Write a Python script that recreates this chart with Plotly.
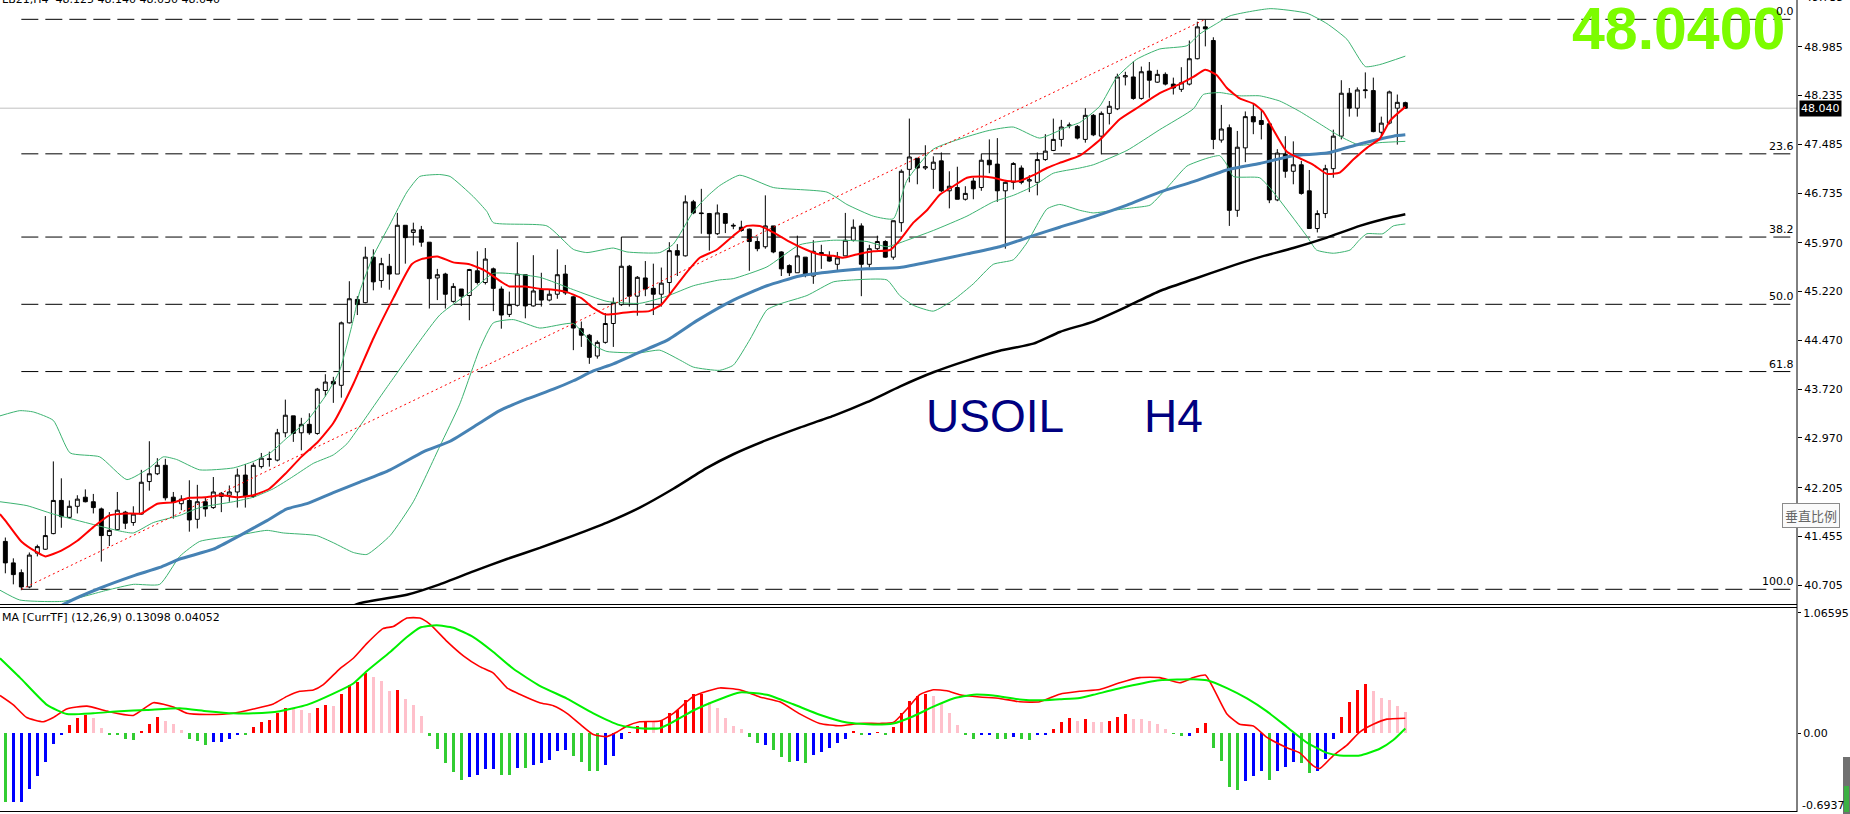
import plotly.graph_objects as go

W, H = 1850, 814

# ---------------- candle data (H4, index = bar number) ----------------
opens = [41.38, 41.05, 40.90, 40.68, 41.20, 41.26, 41.50, 42.01, 41.75, 41.92,
         42.06, 41.99, 41.88, 41.47, 41.56, 41.83, 41.67, 41.80, 42.30, 42.42,
         42.55, 42.06, 41.96, 42.01, 41.72, 41.99, 41.90, 42.07, 42.09, 42.14,
         42.40, 42.07, 42.53, 42.65, 42.63, 43.05, 43.31, 43.05, 43.18, 43.04,
         43.70, 43.84, 43.78, 44.74, 45.10, 45.05, 45.75, 45.39, 45.61, 45.49,
         46.24, 46.13, 46.17, 45.98, 45.43, 45.49, 45.07, 45.26, 45.16, 45.54,
         45.36, 45.57, 45.26, 44.87, 45.01, 45.48, 45.00, 45.25, 45.09, 45.18,
         45.49, 45.14, 44.65, 44.55, 44.23, 44.44, 44.73, 45.02, 45.61, 45.15,
         45.43, 45.27, 45.18, 45.36, 45.85, 45.77, 46.60, 46.43, 46.42, 46.11,
         46.42, 46.24, 46.21, 46.18, 45.99, 45.91, 46.23, 45.83, 45.62, 45.51,
         45.75, 45.46, 45.82, 45.77, 45.64, 45.77, 46.01, 46.23, 45.64, 45.88,
         45.99, 45.75, 46.28, 47.10, 47.27, 47.12, 47.10, 47.23, 46.77, 46.82,
         46.64, 46.92, 46.82, 47.24, 47.18, 46.77, 46.90, 47.12, 46.92, 46.90,
         47.25, 47.39, 47.56, 47.77, 47.76, 47.56, 47.93, 47.61, 47.96, 48.03,
         48.52, 48.52, 48.19, 48.61, 48.44, 48.56, 48.41, 48.33, 48.41, 48.80,
         49.29, 49.08, 47.55, 47.74, 46.47, 47.43, 47.91, 47.85, 47.80, 46.63,
         47.33, 47.07, 47.17, 46.77, 46.19, 46.42, 47.11, 47.61, 48.27, 48.04,
         48.31, 48.31, 47.67, 47.81, 48.04, 48.125]
highs = [41.44, 41.12, 40.95, 41.21, 41.33, 41.77, 42.61, 42.35, 42.01, 42.09,
         42.18, 42.11, 41.90, 41.83, 42.14, 41.85, 41.92, 42.48, 42.92, 42.66,
         42.65, 42.14, 42.09, 42.32, 42.25, 42.06, 42.37, 42.14, 42.24, 42.50,
         42.57, 42.59, 42.74, 42.76, 43.11, 43.56, 43.31, 43.28, 43.35, 43.74,
         43.95, 43.91, 44.76, 45.38, 45.15, 45.91, 45.87, 45.74, 45.80, 46.43,
         46.24, 46.28, 46.23, 45.98, 45.57, 45.51, 45.35, 45.26, 45.57, 45.84,
         45.89, 45.59, 45.30, 45.22, 45.98, 45.48, 45.78, 45.51, 45.25, 45.87,
         45.63, 45.15, 44.76, 44.57, 44.47, 44.89, 45.13, 46.06, 45.63, 45.46,
         45.69, 45.65, 45.59, 45.98, 45.95, 46.70, 46.63, 46.80, 46.43, 46.56,
         46.43, 46.27, 46.31, 46.19, 46.05, 46.70, 46.23, 45.84, 45.64, 46.08,
         45.75, 46.01, 45.94, 45.84, 45.83, 46.43, 46.33, 46.27, 45.94, 46.08,
         46.01, 46.31, 47.10, 47.88, 47.27, 47.47, 47.30, 47.36, 47.07, 47.14,
         46.84, 46.97, 47.34, 47.56, 47.58, 46.92, 47.21, 47.16, 47.01, 47.36,
         47.64, 47.88, 47.86, 47.82, 47.78, 48.04, 47.95, 47.99, 48.15, 48.57,
         48.60, 48.76, 48.68, 48.75, 48.63, 48.59, 48.51, 48.67, 49.08, 49.37,
         49.40, 49.13, 48.09, 47.79, 47.69, 47.99, 48.12, 48.01, 47.83, 47.41,
         47.61, 47.53, 47.23, 47.09, 46.47, 47.17, 47.71, 48.47, 48.35, 48.36,
         48.59, 48.51, 47.91, 48.31, 48.25, 48.14]
lows = [40.89, 40.72, 40.63, 40.66, 41.15, 41.25, 41.49, 41.59, 41.73, 41.81,
        41.98, 41.81, 41.07, 41.31, 41.55, 41.57, 41.62, 41.79, 42.16, 42.40,
        42.01, 41.73, 41.86, 41.53, 41.58, 41.76, 41.88, 41.83, 41.99, 41.90,
        41.90, 42.05, 42.50, 42.53, 42.61, 42.98, 42.91, 42.78, 43.02, 43.02,
        43.61, 43.51, 43.59, 44.73, 44.86, 45.04, 45.24, 45.28, 45.25, 45.49,
        45.65, 45.93, 45.91, 44.96, 45.09, 44.96, 45.05, 45.00, 44.78, 45.33,
        45.33, 44.92, 44.65, 44.83, 44.99, 44.81, 44.99, 44.99, 45.07, 45.11,
        45.17, 44.32, 44.37, 44.11, 44.19, 44.42, 44.37, 45.00, 44.99, 44.85,
        45.15, 44.86, 44.99, 45.18, 45.46, 45.76, 46.41, 46.11, 45.85, 46.09,
        46.12, 46.18, 46.14, 45.54, 45.84, 45.88, 45.81, 45.46, 45.46, 45.51,
        45.44, 45.34, 45.57, 45.68, 45.54, 45.77, 45.99, 45.15, 45.59, 45.86,
        45.74, 45.71, 46.14, 46.90, 46.87, 47.09, 46.80, 46.75, 46.50, 46.64,
        46.62, 46.64, 46.77, 47.04, 46.60, 45.88, 46.79, 46.87, 46.75, 46.70,
        47.23, 47.38, 47.45, 47.73, 47.56, 47.51, 47.61, 47.33, 47.79, 48.01,
        48.39, 48.17, 48.17, 48.20, 48.43, 48.39, 48.25, 48.29, 48.39, 48.79,
        48.99, 47.41, 47.51, 46.23, 46.37, 47.21, 47.64, 47.56, 46.58, 46.61,
        46.97, 46.87, 46.71, 46.19, 46.13, 46.35, 46.97, 47.56, 47.91, 47.91,
        48.19, 47.67, 47.61, 47.79, 47.48, 48.03]
closes = [41.05, 40.87, 40.68, 41.17, 41.30, 41.47, 42.01, 41.76, 41.92, 42.03,
          41.99, 41.90, 41.47, 41.55, 41.86, 41.66, 41.80, 42.29, 42.42, 42.55,
          42.05, 41.98, 42.03, 41.71, 41.99, 41.88, 42.14, 42.12, 42.14, 42.40,
          42.07, 42.55, 42.66, 42.64, 43.05, 43.32, 43.04, 43.18, 43.05, 43.72,
          43.83, 43.80, 44.74, 45.11, 45.02, 45.75, 45.37, 45.65, 45.49, 46.24,
          46.05, 46.17, 45.98, 45.42, 45.48, 45.18, 45.30, 45.15, 45.56, 45.36,
          45.72, 45.27, 44.86, 45.02, 45.49, 45.00, 45.23, 45.09, 45.18, 45.48,
          45.20, 44.66, 44.55, 44.21, 44.44, 44.73, 45.05, 45.61, 45.15, 45.44,
          45.26, 45.18, 45.35, 45.85, 45.78, 46.60, 46.43, 46.42, 46.11, 46.43,
          46.27, 46.23, 46.16, 45.99, 45.88, 46.23, 45.83, 45.57, 45.51, 45.77,
          45.47, 45.84, 45.80, 45.69, 45.74, 46.01, 46.21, 45.64, 45.88, 45.99,
          45.75, 46.31, 47.07, 47.29, 47.12, 47.14, 47.21, 46.77, 46.84, 46.64,
          46.73, 46.80, 47.24, 47.17, 46.77, 46.90, 47.19, 46.90, 46.94, 47.25,
          47.38, 47.56, 47.75, 47.78, 47.58, 47.93, 47.63, 47.96, 48.07, 48.52,
          48.54, 48.19, 48.60, 48.47, 48.56, 48.41, 48.35, 48.43, 48.80, 49.29,
          49.26, 47.56, 47.72, 46.47, 47.44, 47.91, 47.83, 47.79, 46.63, 47.35,
          47.07, 47.17, 46.73, 46.19, 46.42, 47.11, 47.61, 48.27, 48.04, 48.32,
          48.32, 47.68, 47.81, 48.29, 48.13, 48.04]
bars = list(range(len(opens)))

# ---------------- indicator lines: (bar, value) ----------------
ma_fast = [(-0.67, 41.80), (0, 41.70), (2, 41.38), (4, 41.21), (5, 41.15), (7, 41.24), (9, 41.39),
           (11, 41.60), (13, 41.78), (15, 41.81), (17, 41.81), (19, 41.96), (21, 41.98), (23, 42.05),
           (25, 42.06), (27, 42.09), (29, 42.06), (31, 42.09), (33, 42.19), (35, 42.42), (37, 42.68),
           (39, 42.90), (41, 43.20), (43.5, 43.80), (46, 44.50), (48.5, 45.12), (50.8, 45.64),
           (52, 45.72), (54, 45.76), (56, 45.67), (58, 45.64), (60, 45.54), (62, 45.37), (63, 45.30),
           (65, 45.30), (67, 45.26), (68.5, 45.25), (70, 45.22), (72, 45.12), (73.5, 44.97),
           (75, 44.87), (77, 44.89), (78.5, 44.91), (80.5, 44.92), (82, 45.02), (83.5, 45.25),
           (85.2, 45.52), (86.8, 45.74), (88.9, 45.86), (91, 46.08), (92.7, 46.23), (94.3, 46.23),
           (96, 46.13), (98, 45.99), (100.2, 45.86), (101.8, 45.79), (103.5, 45.77), (104.7, 45.74),
           (106.4, 45.79), (108.5, 45.84), (110.6, 45.86), (111.8, 46.01), (113.5, 46.28),
           (115.2, 46.47), (116.8, 46.71), (118.5, 46.84), (120.2, 46.97), (121.8, 46.99),
           (123.5, 46.97), (125.2, 46.92), (126.8, 46.92), (128.5, 47.01), (130.2, 47.12),
           (131.8, 47.20), (134.3, 47.31), (136.8, 47.55), (139.3, 47.87), (141.8, 48.07),
           (144.3, 48.27), (146.8, 48.41), (148.5, 48.52), (150, 48.63), (151.4, 48.55),
           (152.7, 48.35), (154.3, 48.19), (156, 48.11), (157.2, 47.99), (158.5, 47.71),
           (160.2, 47.37), (161.8, 47.27), (163.5, 47.17), (165.2, 47.03), (166.8, 47.05),
           (168.5, 47.25), (170.2, 47.43), (171.8, 47.57), (173.1, 47.85), (175, 48.06)]
ma_mid = [(5, 40.25), (7.7, 40.44), (11.8, 40.66), (16, 40.85), (19.3, 40.98), (21.8, 41.11),
          (26, 41.26), (29.3, 41.47), (32.7, 41.70), (35.2, 41.88), (37.7, 41.96), (41, 42.13),
          (44.3, 42.29), (48.1, 42.48), (52.3, 42.76), (55.6, 42.92), (59.3, 43.20), (61.8, 43.39),
          (65.2, 43.57), (68.5, 43.72), (71, 43.85), (73.5, 44.00), (76, 44.11), (79.3, 44.29),
          (82.7, 44.47), (86.4, 44.77), (91, 45.09), (95.2, 45.31), (99.3, 45.46), (103.5, 45.53),
          (107.7, 45.57), (111.8, 45.59), (116, 45.69), (120.2, 45.80), (124.3, 45.91),
          (128.5, 46.08), (131.8, 46.21), (136, 46.37), (140.2, 46.55), (144.3, 46.75),
          (148.5, 46.91), (152.7, 47.09), (156.8, 47.19), (161, 47.31), (165.2, 47.35),
          (169.3, 47.49), (173.5, 47.61), (175, 47.63)]
ma_slow = [(40, 40.20), (44.3, 40.43), (50.2, 40.56), (54.3, 40.72), (58.5, 40.92), (62.7, 41.11),
           (66.8, 41.28), (71, 41.47), (75.2, 41.67), (79.3, 41.90), (83.5, 42.19), (87.7, 42.51),
           (91, 42.72), (95.2, 42.94), (99.3, 43.13), (103.5, 43.31), (107.7, 43.52), (111.8, 43.76),
           (116, 43.98), (120.2, 44.16), (124.3, 44.31), (128.5, 44.42), (131.8, 44.60),
           (136, 44.76), (140.2, 44.99), (144.3, 45.23), (148.5, 45.41), (152.7, 45.59),
           (156.8, 45.75), (161, 45.89), (165.2, 46.05), (169.3, 46.23), (173.5, 46.37), (175, 46.41)]
bb_upper = [(-0.67, 43.31), (1.8, 43.39), (3.5, 43.37), (6, 43.24), (8.1, 42.74), (11.8, 42.68),
            (15.2, 42.33), (18, 42.51), (19.75, 42.68), (21.4, 42.64), (24.3, 42.48), (28.5, 42.51),
            (31, 42.61), (33.1, 42.74), (35.2, 42.97), (37.7, 43.23), (40.2, 43.65), (41.8, 44.01),
            (43.5, 44.79), (44.3, 45.22), (46, 45.77), (48.1, 46.26), (50.2, 46.75), (51.8, 46.99),
            (54.3, 47.02), (55.6, 46.99), (58.5, 46.68), (60.2, 46.45), (61, 46.28), (67.7, 46.23),
            (71, 45.87), (72.7, 45.82), (76, 45.89), (77.7, 45.83), (81.8, 45.82), (83.5, 45.95),
            (86, 46.45), (87.7, 46.68), (89.3, 46.85), (91.8, 47.01), (96, 46.82), (102.7, 46.75),
            (105.2, 46.56), (108.5, 46.38), (111, 46.34), (112.7, 46.93), (116, 47.41),
            (122.7, 47.69), (126, 47.75), (129.3, 47.58), (132.7, 47.75), (134.3, 47.82),
            (136.8, 48.07), (138.9, 48.51), (141.4, 48.79), (144.3, 48.95), (147.7, 49.00),
            (149.3, 49.18), (151.4, 49.34), (153.1, 49.46), (158.1, 49.57), (162.7, 49.50),
            (165.2, 49.34), (167.7, 49.10), (170, 48.68), (171.8, 48.71), (175, 48.84)]
bb_middle = [(-0.67, 41.99), (2.7, 41.93), (6, 41.80), (11, 41.64), (14.3, 41.54), (16, 41.51),
             (18.5, 41.67), (21.8, 41.78), (24.3, 41.90), (28.5, 41.99), (31, 42.06), (33.5, 42.19),
             (36, 42.38), (38.5, 42.58), (41, 42.71), (42.7, 42.88), (44.3, 43.15), (48.1, 43.82),
             (54.3, 44.86), (58.5, 45.25), (61, 45.50), (66.8, 45.44), (71, 45.25), (75.2, 45.07),
             (79.3, 45.04), (82.7, 45.15), (86, 45.31), (89.3, 45.40), (91, 45.42), (95.2, 45.60),
             (99.3, 45.94), (103.5, 46.01), (107.7, 45.99), (110.2, 45.91), (112.7, 46.01),
             (116, 46.16), (120.2, 46.38), (123.5, 46.60), (126, 46.70), (128.5, 46.84),
             (131, 47.04), (134.3, 47.12), (136, 47.17), (140.2, 47.39), (144.3, 47.71),
             (148.5, 48.03), (149.75, 48.25), (151.8, 48.28), (154.3, 48.23), (156.8, 48.23),
             (159.3, 48.15), (161.8, 47.99), (164.3, 47.80), (166.8, 47.61), (169.3, 47.47),
             (171.8, 47.51), (175, 47.53)]
bb_lower = [(-0.67, 40.63), (1.8, 40.48), (7.25, 40.46), (12.7, 40.63), (16, 40.72), (19.3, 40.72),
            (21.8, 41.15), (24.3, 41.38), (28.5, 41.46), (32.7, 41.55), (34.75, 41.51),
            (38.9, 41.47), (41, 41.36), (43.5, 41.21), (45.2, 41.18), (48.1, 41.47), (51, 41.99),
            (54.3, 42.84), (56.8, 43.49), (59.3, 44.34), (61, 44.74), (63.5, 44.79), (66.8, 44.66),
            (71, 44.73), (73.5, 44.40), (75.2, 44.30), (79.3, 44.28), (81.8, 44.32), (84.3, 44.17),
            (86, 44.06), (89.3, 44.01), (91, 44.09), (93.1, 44.49), (95.2, 44.94), (96.8, 45.03),
            (100.2, 45.16), (103.5, 45.37), (106, 45.40), (110.2, 45.40), (111.8, 45.16),
            (113.5, 45.01), (116, 44.92), (118.5, 45.09), (121, 45.34), (123.5, 45.64),
            (126, 45.71), (127.7, 45.97), (130.2, 46.49), (131.8, 46.56), (134.3, 46.47),
            (136, 46.43), (138.5, 46.47), (141, 46.51), (143.1, 46.55), (145.6, 46.87),
            (147.7, 47.15), (150.2, 47.27), (151.8, 47.31), (152.7, 47.17), (153.5, 46.99),
            (156.8, 46.97), (158.5, 46.75), (161, 46.35), (162.7, 46.07), (163.9, 45.86),
            (166, 45.81), (168.1, 45.86), (169.3, 46.02), (170.2, 46.11), (172.2, 46.11),
            (173.5, 46.23), (175, 46.26)]

# ---------------- MACD (12,26,9) ----------------
macd_hist = [-0.615, -0.615, -0.615, -0.50, -0.38, -0.26, -0.10, -0.02, 0.073, 0.137,
             0.156, 0.137, 0.043, -0.02, -0.02, -0.05, -0.058, 0.013, 0.081, 0.145,
             0.107, 0.077, 0.024, -0.05, -0.07, -0.107, -0.08, -0.08, -0.05, -0.013,
             -0.013, 0.055, 0.10, 0.118, 0.175, 0.22, 0.22, 0.205, 0.182, 0.22,
             0.25, 0.243, 0.344, 0.43, 0.457, 0.532, 0.494, 0.464, 0.374, 0.382,
             0.306, 0.25, 0.149, -0.024, -0.145, -0.265, -0.344, -0.415, -0.389, -0.37,
             -0.321, -0.321, -0.37, -0.37, -0.314, -0.314, -0.284, -0.269, -0.239, -0.164,
             -0.149, -0.201, -0.258, -0.333, -0.333, -0.288, -0.201, -0.051, 0.005, 0.062,
             0.107, 0.10, 0.118, 0.175, 0.205, 0.295, 0.344, 0.344, 0.277, 0.22,
             0.136, 0.063, 0.033, -0.035, -0.086, -0.107, -0.15, -0.214, -0.256, -0.248,
             -0.265, -0.193, -0.171, -0.137, -0.086, -0.052, 0.02, -0.01, -0.01, 0.008,
             -0.01, 0.05, 0.179, 0.286, 0.333, 0.35, 0.333, 0.264, 0.179, 0.072,
             -0.02, -0.05, -0.02, -0.015, -0.05, -0.05, -0.035, -0.05, -0.064, -0.02,
             -0.01, 0.04, 0.10, 0.13, 0.106, 0.123, 0.10, 0.10, 0.109, 0.146,
             0.169, 0.123, 0.123, 0.109, 0.077, 0.04, -0.005, -0.03, -0.03, 0.044,
             0.086, -0.13, -0.246, -0.477, -0.509, -0.43, -0.385, -0.339, -0.417, -0.339,
             -0.306, -0.26, -0.27, -0.352, -0.339, -0.233, -0.05, 0.146, 0.275, 0.386,
             0.432, 0.376, 0.307, 0.293, 0.238, 0.183]
hist_state = ("GBBBBBBBRRRPPGGGGRRRPPPGGGBBBBGRRRRRPPPRRPRRR"
              "RPPPRPPPGGGGGBBBBGGBGBBBBBGGGGBBBRRRPRRRRRRPP"
              "PPPGGBGGGBGBBBBBRGBRGRRRRRPPPPGGBBGGBGGBBRRRP"
              "RPPRRRPPPPPGGBRRGGGGBBBGBBBGGBBBRRRRPPPPP")
macd_line = [(-0.67, 0.333), (1, 0.25), (2.67, 0.137), (4.75, 0.10), (6, 0.137), (7.67, 0.213),
             (10.2, 0.239), (12.7, 0.194), (16, 0.156), (18.5, 0.269), (21, 0.231), (22.7, 0.175),
             (25.2, 0.164), (28.5, 0.175), (31, 0.213), (33.5, 0.258), (35.2, 0.325), (36.8, 0.37),
             (38.5, 0.382), (39.75, 0.43), (41.8, 0.57), (43.5, 0.664), (45.2, 0.796), (47.2, 0.927),
             (48.5, 0.946), (50.2, 1.021), (51.8, 1.021), (53.1, 0.965), (55.2, 0.814), (57.3, 0.683),
             (59.3, 0.589), (61, 0.532), (62.7, 0.401), (64.3, 0.344), (66.8, 0.269), (68.5, 0.242),
             (70.2, 0.175), (71.8, 0.081), (73.5, -0.013), (75.2, -0.032), (76.4, 0.006),
             (77.7, 0.062), (79.3, 0.10), (81.8, 0.107), (83.5, 0.175), (86, 0.325), (87.7, 0.37),
             (89.3, 0.40), (91.8, 0.384), (94.3, 0.32), (96.8, 0.277), (99.3, 0.17), (101.8, 0.085),
             (104.3, 0.064), (106.8, 0.085), (109.3, 0.085), (111, 0.093), (112.7, 0.213),
             (114.3, 0.34), (116, 0.384), (117.7, 0.375), (119.3, 0.34), (121.8, 0.32),
             (124.3, 0.307), (126.8, 0.277), (129.3, 0.277), (131.8, 0.345), (134.3, 0.37),
             (136.8, 0.386), (139.3, 0.446), (141.8, 0.492), (144.3, 0.492), (146.8, 0.446),
             (148.5, 0.492), (150, 0.515), (151, 0.399), (152.7, 0.169), (154.3, 0.077),
             (156, 0.063), (157.7, -0.039), (160.2, -0.131), (161.8, -0.177), (163.5, -0.292),
             (164.3, -0.315), (166, -0.2), (167.7, -0.108), (169.3, 0.008), (171, 0.077),
             (172.7, 0.123), (175, 0.13098)]
signal_line = [(-0.67, 0.664), (1.8, 0.494), (5.2, 0.25), (7.7, 0.168), (11, 0.175), (14.3, 0.194),
               (17.7, 0.205), (21.8, 0.22), (25.2, 0.194), (28.5, 0.175), (31, 0.175), (34.3, 0.194),
               (37.7, 0.25), (41, 0.35), (43.5, 0.44), (45.2, 0.551), (48.1, 0.72), (50.2, 0.852),
               (51.8, 0.935), (53.9, 0.957), (56, 0.935), (58.5, 0.852), (61, 0.72), (63.5, 0.57),
               (66.8, 0.419), (70.2, 0.306), (73.5, 0.175), (76.8, 0.07), (79.3, 0.043),
               (81.8, 0.043), (83.5, 0.10), (86, 0.20), (89.3, 0.30), (91.8, 0.36), (95.2, 0.34),
               (98.5, 0.255), (101.8, 0.162), (105.2, 0.093), (108.5, 0.076), (111, 0.085),
               (113.5, 0.149), (116, 0.234), (118.5, 0.307), (121, 0.34), (123.5, 0.332),
               (126.8, 0.298), (129.3, 0.29), (131.8, 0.30), (134.3, 0.31), (136, 0.339),
               (140.2, 0.413), (144.3, 0.469), (148.5, 0.478), (150.2, 0.469), (152.7, 0.399),
               (155.2, 0.307), (157.7, 0.192), (160.2, 0.054), (162.7, -0.085), (165.2, -0.177),
               (166.8, -0.2), (169.3, -0.2), (171.8, -0.14), (173.5, -0.062), (175, 0.04052)]

# ---------------- Fibonacci retracement ----------------
fib_low_bar, fib_low = 2, 40.644
fib_high_bar, fib_high = 150, 49.406
fib_levels = [0.0, 23.6, 38.2, 50.0, 61.8, 100.0]

price_ticks = [48.985, 48.235, 47.485, 46.735, 45.970, 45.220, 44.470, 43.720,
               42.970, 42.205, 41.455, 40.705]
macd_ticks = [1.06595, 0.0]
last_price = 48.040
header = "LB21,H4  48.125 48.140 48.030 48.040"
macd_header = "MA [CurrTF] (12,26,9) 0.13098 0.04052"

# ---------------- layout geometry ----------------
XD = 1797 / W
def py(pix):
    return 1 - pix / H
X_RANGE = [-0.667, 223.96]
MAIN_RANGE = [40.418, 49.703]
MACD_RANGE = [-0.7015, 1.110]
FONT = "DejaVu Sans"

def unzip(pairs):
    return [p[0] for p in pairs], [p[1] for p in pairs]

fig = go.Figure()

BB_COL = "#3CB371"
for band in (bb_upper, bb_middle, bb_lower):
    bx, by = unzip(band)
    fig.add_trace(go.Scatter(x=bx, y=by, mode="lines", line=dict(color=BB_COL, width=1, shape="spline", smoothing=0.5),
                             hoverinfo="skip", showlegend=False, xaxis="x", yaxis="y"))

fig.add_trace(go.Candlestick(
    x=bars, open=opens, high=highs, low=lows, close=closes,
    increasing=dict(line=dict(color="black", width=1), fillcolor="white"),
    decreasing=dict(line=dict(color="black", width=1), fillcolor="black"),
    whiskerwidth=0, hoverinfo="skip", showlegend=False, xaxis="x", yaxis="y"))

for pairs, col, wdt in ((ma_slow, "#000000", 2.5), (ma_mid, "#4682B4", 3), (ma_fast, "#FF0000", 2)):
    mx, my = unzip(pairs)
    fig.add_trace(go.Scatter(x=mx, y=my, mode="lines", line=dict(color=col, width=wdt, shape="spline", smoothing=0.5),
                             hoverinfo="skip", showlegend=False, xaxis="x", yaxis="y"))

# MACD panel
COLMAP = {"R": "#FF0000", "P": "#FFC0CB", "G": "#32CD32", "B": "#0000FF"}
fig.add_trace(go.Bar(x=bars, y=macd_hist, width=0.42,
                     marker=dict(color=[COLMAP[c] for c in hist_state], line=dict(width=0)),
                     hoverinfo="skip", showlegend=False, xaxis="x2", yaxis="y2"))
for pairs, col, wdt in ((macd_line, "#FF0000", 1.6), (signal_line, "#00F000", 2)):
    mx, my = unzip(pairs)
    fig.add_trace(go.Scatter(x=mx, y=my, mode="lines", line=dict(color=col, width=wdt, shape="spline", smoothing=0.5),
                             hoverinfo="skip", showlegend=False, xaxis="x2", yaxis="y2"))

shapes = []
annotations = []
fib_span = fib_high - fib_low
for lvl in fib_levels:
    p = fib_high - lvl / 100.0 * fib_span
    shapes.append(dict(type="line", xref="x", yref="y", x0=fib_low_bar, x1=X_RANGE[1], y0=p, y1=p,
                       line=dict(color="black", width=1, dash="17px,7px"), layer="below"))
shapes.append(dict(type="line", xref="x", yref="y", x0=fib_low_bar, y0=fib_low, x1=fib_high_bar, y1=fib_high,
                   line=dict(color="#FF0000", width=1, dash="2px,3px")))
shapes.append(dict(type="line", xref="paper", yref="y", x0=0, x1=XD, y0=last_price, y1=last_price,
                   line=dict(color="#C0C0C0", width=1), layer="below"))
# panel borders
for yy in (604.5, 607.5, 811.5):
    shapes.append(dict(type="line", xref="paper", yref="paper", x0=0, x1=XD, y0=py(yy), y1=py(yy),
                       line=dict(color="black", width=1)))
shapes.append(dict(type="line", xref="paper", yref="paper", x0=XD, x1=XD, y0=py(812), y1=1,
                   line=dict(color="black", width=1)))
# scroll grip at the lower right corner
shapes.append(dict(type="rect", xref="paper", yref="paper", x0=1843 / W, x1=1, y0=0, y1=py(757),
                   fillcolor="#707070", line=dict(width=0)))
shapes.append(dict(type="rect", xref="paper", yref="paper", x0=1844 / W, x1=1849 / W, y0=py(812), y1=py(786),
                   fillcolor="#3CB043", line=dict(width=0)))

# big current price
annotations.append(dict(text="<b>48.0400</b>", xref="paper", yref="paper", x=1787 / W, y=py(29),
                        xanchor="right", yanchor="middle", showarrow=False,
                        font=dict(family="Liberation Sans", size=59, color="#7CFC00")))
for lvl in fib_levels:
    p = fib_high - lvl / 100.0 * fib_span
    annotations.append(dict(text=f"{lvl:.1f}", xref="paper", yref="y", x=1795 / W, y=p,
                            xanchor="right", yanchor="bottom", showarrow=False, borderpad=0,
                            font=dict(family=FONT, size=11, color="black")))
annotations.append(dict(text=header, xref="paper", yref="paper", x=0, y=py(-1), xanchor="left",
                        yanchor="middle", showarrow=False, font=dict(family=FONT, size=11, color="black")))
annotations.append(dict(text=macd_header, xref="paper", yref="paper", x=0, y=py(617), xanchor="left",
                        yanchor="middle", showarrow=False, font=dict(family=FONT, size=11, color="black")))
annotations.append(dict(text="USOIL", xref="paper", yref="paper", x=924 / W, y=py(416), xanchor="left",
                        yanchor="middle", showarrow=False, font=dict(family="Liberation Sans", size=46, color="#000080")))
annotations.append(dict(text="H4", xref="paper", yref="paper", x=1142 / W, y=py(416), xanchor="left",
                        yanchor="middle", showarrow=False, font=dict(family="Liberation Sans", size=46, color="#000080")))
annotations.append(dict(text="48.040", xref="paper", yref="y", x=1799 / W, y=last_price, xanchor="left",
                        yanchor="middle", showarrow=False, bgcolor="black", borderpad=1,
                        font=dict(family=FONT, size=11, color="white")))
annotations.append(dict(text="49.735", xref="paper", yref="paper", x=1803 / W, y=py(-2), xanchor="left",
                        yanchor="middle", showarrow=False, font=dict(family=FONT, size=11, color="black")))
annotations.append(dict(text="-0.6937", xref="paper", yref="paper", x=1800 / W, y=py(805), xanchor="left",
                        yanchor="middle", showarrow=False, font=dict(family=FONT, size=11, color="black")))
annotations.append(dict(text="垂直比例", xref="paper", yref="paper", x=1782 / W, y=py(515), xanchor="left",
                        yanchor="middle", showarrow=False, bgcolor="#FAFAFA", bordercolor="#8A8A8A",
                        borderwidth=1, borderpad=2,
                        font=dict(family="Noto Sans CJK SC", size=13, color="#666666")))

axis_common = dict(showgrid=False, zeroline=False)
fig.update_layout(
    width=W, height=H, autosize=False,
    margin=dict(l=0, r=0, t=0, b=0, pad=0),
    paper_bgcolor="white", plot_bgcolor="white",
    showlegend=False,
    xaxis=dict(domain=[0, XD], range=X_RANGE, visible=False, anchor="y",
               rangeslider=dict(visible=False), **axis_common),
    yaxis=dict(domain=[py(604), 1], range=MAIN_RANGE, side="right", anchor="x",
               tickvals=price_ticks, ticktext=[f"{v:.3f}" for v in price_ticks],
               ticks="outside", ticklen=4, tickcolor="black", showline=False,
               tickfont=dict(family=FONT, size=11, color="black"), automargin=False, **axis_common),
    xaxis2=dict(domain=[0, XD], range=X_RANGE, visible=False, anchor="y2", **axis_common),
    yaxis2=dict(domain=[py(812), py(608)], range=MACD_RANGE, side="right", anchor="x2",
                tickvals=macd_ticks, ticktext=["1.06595", "0.00"],
                ticks="outside", ticklen=3, tickcolor="black", showline=False,
                tickfont=dict(family=FONT, size=11, color="black"), automargin=False, **axis_common),
    shapes=shapes, annotations=annotations,
    bargap=0,
)

fig.write_html("out.html")
